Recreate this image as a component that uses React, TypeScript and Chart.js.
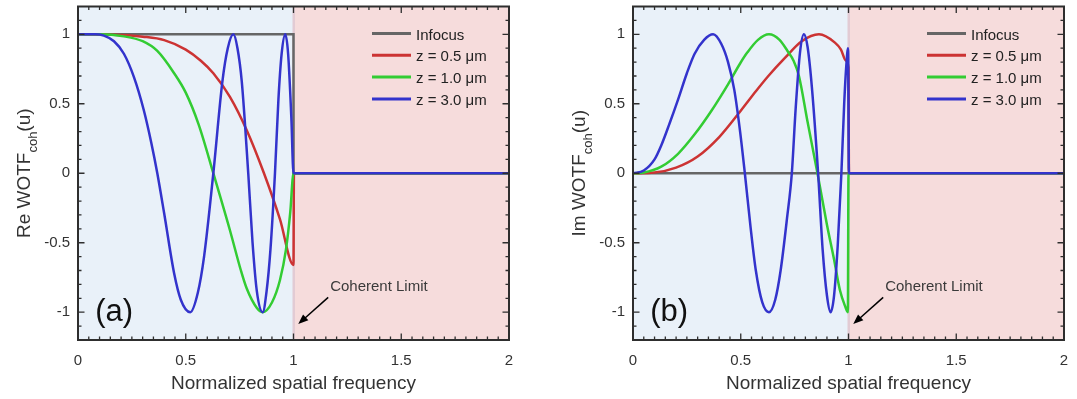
import React, { useEffect, useRef } from 'react';
import { Chart, registerables } from 'chart.js';

Chart.register(...registerables);

const FONT = '"Liberation Sans", Arial, Helvetica, sans-serif';

// ---------- legend / ticks ----------
const seriesLabels = ['Infocus', 'z = 0.5 μm', 'z = 1.0 μm', 'z = 3.0 μm'];
const seriesColors = ['#666666', '#cc3333', '#33cc33', '#3333cc'];
const xTickValues = [0, 0.5, 1, 1.5, 2];
const yTickValues = [-1, -0.5, 0, 0.5, 1];

// ---------- panel (a): Re WOTF ----------
const reInfocusX = [0, 1, 1, 2];
const reInfocusY = [1, 1, 0, 0];

const reRedX = [0, 0.1, 0.2, 0.3, 0.4, 0.5, 0.57, 0.628, 0.705, 0.783, 0.863, 0.937, 1.0, 1.002, 2];
const reRedY = [1, 0.999, 0.995, 0.983, 0.958, 0.89, 0.81, 0.72, 0.55, 0.31, 0.0, -0.33, -0.66, 0, 0];

const reGreenX = [0, 0.1, 0.213, 0.3, 0.368, 0.446, 0.5, 0.56, 0.628, 0.705, 0.756, 0.783, 0.83, 0.857, 0.9, 0.937, 0.965, 0.985, 1.0, 2];
const reGreenY = [1, 1, 0.985, 0.95, 0.88, 0.72, 0.58, 0.35, 0, -0.41, -0.7, -0.83, -0.97, -1, -0.93, -0.77, -0.55, -0.28, 0, 0];

const reBlueX = [0, 0.08, 0.12, 0.167, 0.213, 0.26, 0.306, 0.34, 0.368, 0.4, 0.446, 0.477, 0.521, 0.556, 0.585, 0.628, 0.67, 0.695, 0.721, 0.74, 0.76, 0.79, 0.81, 0.83, 0.857, 0.875, 0.893, 0.914, 0.93, 0.945, 0.962, 0.975, 0.99, 1.0, 2];
const reBlueY = [1, 1, 0.99, 0.95, 0.86, 0.69, 0.45, 0.22, 0, -0.29, -0.72, -0.91, -1, -0.86, -0.6, 0, 0.66, 0.9, 1, 0.9, 0.66, 0, -0.5, -0.85, -1, -0.85, -0.55, 0, 0.53, 0.86, 1, 0.86, 0.4, 0, 0];

// ---------- panel (b): Im WOTF ----------
const imInfocusX = [0, 2];
const imInfocusY = [0, 0];

const imRedX = [0, 0.1, 0.2, 0.3, 0.4, 0.5, 0.57, 0.628, 0.705, 0.783, 0.863, 0.937, 0.965, 0.988, 1.0, 1.002, 2];
const imRedY = [0, 0.005, 0.04, 0.12, 0.26, 0.45, 0.59, 0.7, 0.83, 0.95, 1, 0.94, 0.89, 0.81, 0.76, 0, 0];

const imGreenX = [0, 0.05, 0.131, 0.209, 0.286, 0.364, 0.441, 0.497, 0.531, 0.58, 0.631, 0.68, 0.717, 0.745, 0.77, 0.81, 0.856, 0.9, 0.933, 0.96, 0.985, 0.997, 1.0, 2];
const imGreenY = [0, 0.005, 0.047, 0.14, 0.28, 0.45, 0.64, 0.79, 0.87, 0.96, 1, 0.96, 0.88, 0.81, 0.7, 0.37, 0, -0.37, -0.62, -0.84, -0.96, -1, 0, 0];

const imBlueX = [0, 0.05, 0.1, 0.131, 0.17, 0.209, 0.25, 0.286, 0.33, 0.372, 0.41, 0.441, 0.47, 0.497, 0.519, 0.545, 0.57, 0.6, 0.631, 0.66, 0.685, 0.715, 0.737, 0.755, 0.775, 0.793, 0.81, 0.83, 0.859, 0.88, 0.9, 0.917, 0.933, 0.95, 0.967, 0.98, 0.99, 0.998, 1.002, 2];
const imBlueY = [0, 0.02, 0.1, 0.2, 0.36, 0.53, 0.72, 0.86, 0.96, 1, 0.93, 0.8, 0.6, 0.3, 0, -0.38, -0.7, -0.93, -1, -0.91, -0.7, -0.32, 0, 0.47, 0.87, 1, 0.91, 0.62, 0, -0.55, -0.88, -1, -0.88, -0.52, 0, 0.5, 0.78, 0.9, 0, 0];

const toPoints = (xs: number[], ys: number[]) => xs.map((x, i) => ({ x, y: ys[i] }));

const BLUE_BG = '#e9f1f9';
const PINK_BG = '#f6dcdc';
const AXIS_COLOR = '#2e2e2e';
const TEXT_COLOR = '#333333';

type PanelCfg = {
  tag: string;
  yMain: string;
  series: { xs: number[]; ys: number[] }[];
};

function makeDecorPlugin(cfg: PanelCfg) {
  return {
    id: 'panelDecor',
    beforeDatasetsDraw(chart: any) {
      const { ctx, chartArea: a, scales } = chart;
      const xs = scales.x;
      const x1 = xs.getPixelForValue(1);
      ctx.save();
      ctx.fillStyle = BLUE_BG;
      ctx.fillRect(a.left, a.top, x1 - a.left, a.bottom - a.top);
      ctx.fillStyle = PINK_BG;
      ctx.fillRect(x1, a.top, a.right - x1, a.bottom - a.top);
      ctx.fillStyle = '#e2cbd4';
      ctx.fillRect(x1 - 1, a.top, 2.5, a.bottom - a.top);
      ctx.restore();
    },
    afterDatasetsDraw(chart: any) {
      const { ctx, chartArea: a, scales } = chart;
      const xs = scales.x;
      const ys = scales.y;
      ctx.save();

      // legend
      ctx.font = `15px ${FONT}`;
      ctx.textBaseline = 'middle';
      ctx.textAlign = 'left';
      chart.data.datasets.forEach((ds: any, i: number) => {
        const yy = a.top + 27 + i * 21.8;
        ctx.strokeStyle = ds.borderColor;
        ctx.lineWidth = 3;
        ctx.beginPath();
        ctx.moveTo(a.right - 137, yy);
        ctx.lineTo(a.right - 98, yy);
        ctx.stroke();
        ctx.fillStyle = '#222222';
        ctx.fillText(ds.label, a.right - 93, yy + 2);
      });

      // panel tag
      ctx.font = `31px ${FONT}`;
      ctx.fillStyle = '#111111';
      ctx.textBaseline = 'alphabetic';
      ctx.fillText(cfg.tag, xs.getPixelForValue(0.08), ys.getPixelForValue(-1.06));

      // coherent limit annotation
      ctx.font = `15px ${FONT}`;
      ctx.fillStyle = '#3a3a3a';
      ctx.textBaseline = 'middle';
      ctx.fillText('Coherent Limit', xs.getPixelForValue(1.17), ys.getPixelForValue(-0.82));
      const sx = xs.getPixelForValue(1.161);
      const sy = ys.getPixelForValue(-0.893);
      const tx = xs.getPixelForValue(1.022);
      const ty = ys.getPixelForValue(-1.085);
      const ang = Math.atan2(ty - sy, tx - sx);
      const hl = 10;
      const hw = 4;
      ctx.strokeStyle = '#000';
      ctx.lineWidth = 1.5;
      ctx.beginPath();
      ctx.moveTo(sx, sy);
      ctx.lineTo(tx - Math.cos(ang) * hl * 0.8, ty - Math.sin(ang) * hl * 0.8);
      ctx.stroke();
      ctx.fillStyle = '#000';
      ctx.beginPath();
      ctx.moveTo(tx, ty);
      ctx.lineTo(tx - Math.cos(ang) * hl - Math.sin(ang) * hw, ty - Math.sin(ang) * hl + Math.cos(ang) * hw);
      ctx.lineTo(tx - Math.cos(ang) * hl + Math.sin(ang) * hw, ty - Math.sin(ang) * hl - Math.cos(ang) * hw);
      ctx.closePath();
      ctx.fill();

      // inward ticks on all four sides
      ctx.strokeStyle = AXIS_COLOR;
      ctx.lineWidth = 1.3;
      ctx.beginPath();
      for (let k = 1; k < 40; k++) {
        const v = k * 0.05;
        const major = k % 10 === 0;
        const len = major ? 6.5 : 3.5;
        const px = xs.getPixelForValue(v);
        ctx.moveTo(px, a.bottom);
        ctx.lineTo(px, a.bottom - len);
        ctx.moveTo(px, a.top);
        ctx.lineTo(px, a.top + len);
      }
      for (let k = -11; k <= 11; k++) {
        const major = k % 5 === 0;
        const len = major ? 6.5 : 3.5;
        const py = ys.getPixelForValue(k / 10);
        ctx.moveTo(a.left, py);
        ctx.lineTo(a.left + len, py);
        ctx.moveTo(a.right, py);
        ctx.lineTo(a.right - len, py);
      }
      ctx.stroke();

      // frame
      ctx.lineWidth = 2;
      ctx.strokeRect(a.left, a.top, a.right - a.left, a.bottom - a.top);

      // y title with subscript
      const cx = a.left - 48;
      const cy = (a.top + a.bottom) / 2;
      ctx.translate(cx, cy);
      ctx.rotate(-Math.PI / 2);
      ctx.fillStyle = TEXT_COLOR;
      ctx.textBaseline = 'alphabetic';
      const fMain = `19px ${FONT}`;
      const fSub = `13px ${FONT}`;
      ctx.font = fMain;
      const w1 = ctx.measureText(cfg.yMain).width;
      const w3 = ctx.measureText('(u)').width;
      ctx.font = fSub;
      const w2 = ctx.measureText('coh').width;
      let x0 = -(w1 + w2 + w3) / 2;
      ctx.font = fMain;
      ctx.fillText(cfg.yMain, x0, 0);
      x0 += w1;
      ctx.font = fSub;
      ctx.fillText('coh', x0, 7);
      x0 += w2;
      ctx.font = fMain;
      ctx.fillText('(u)', x0, 0);
      ctx.restore();
    },
  };
}

function Panel({ cfg, left, width, yAxisWidth, padRight }: { cfg: PanelCfg; left: number; width: number; yAxisWidth: number; padRight: number }) {
  const ref = useRef<HTMLCanvasElement>(null);
  useEffect(() => {
    const drawOrder = [4, 3, 2, 1];
    const chart = new Chart(ref.current as HTMLCanvasElement, {
      type: 'line',
      data: {
        datasets: cfg.series.map((s, i) => ({
          label: seriesLabels[i],
          data: toPoints(s.xs, s.ys),
          borderColor: seriesColors[i],
          backgroundColor: seriesColors[i],
          borderWidth: 2.5,
          pointRadius: 0,
          fill: false,
          order: drawOrder[i],
          cubicInterpolationMode: i === 0 ? 'default' : 'monotone',
          tension: 0,
        })),
      } as any,
      options: {
        animation: false,
        responsive: true,
        maintainAspectRatio: false,
        events: [],
        layout: { padding: { left: 0, top: 6.5, right: padRight, bottom: 4 } },
        plugins: {
          legend: { display: false },
          tooltip: { enabled: false },
        },
        scales: {
          x: {
            type: 'linear',
            min: 0,
            max: 2,
            grid: { display: false, drawTicks: false },
            border: { display: false },
            afterBuildTicks: (s: any) => {
              s.ticks = xTickValues.map((v) => ({ value: v }));
            },
            afterFit: (s: any) => {
              s.height = 55;
              s.paddingLeft = 0;
              s.paddingRight = 0;
            },
            ticks: {
              padding: 12,
              color: TEXT_COLOR,
              autoSkip: false,
              maxRotation: 0,
              font: { family: FONT, size: 15 },
              callback: (v: any) => String(v),
            },
            title: {
              display: true,
              text: 'Normalized spatial frequency',
              color: TEXT_COLOR,
              font: { family: FONT, size: 19 },
              padding: 0,
            },
          },
          y: {
            type: 'linear',
            min: -1.2,
            max: 1.2,
            grid: { display: false, drawTicks: false },
            border: { display: false },
            afterBuildTicks: (s: any) => {
              s.ticks = yTickValues.map((v) => ({ value: v }));
            },
            afterFit: (s: any) => {
              s.width = yAxisWidth;
              s.paddingTop = 0;
              s.paddingBottom = 0;
            },
            ticks: {
              padding: 8,
              color: TEXT_COLOR,
              autoSkip: false,
              font: { family: FONT, size: 15 },
              callback: (v: any) => String(v),
            },
          },
        },
      } as any,
      plugins: [makeDecorPlugin(cfg)],
    });
    return () => chart.destroy();
  }, []);
  return (
    <div style={{ position: 'absolute', left, top: 0, width, height: 399 }}>
      <canvas ref={ref} />
    </div>
  );
}

const panelA: PanelCfg = {
  tag: '(a)',
  yMain: 'Re WOTF',
  series: [
    { xs: reInfocusX, ys: reInfocusY },
    { xs: reRedX, ys: reRedY },
    { xs: reGreenX, ys: reGreenY },
    { xs: reBlueX, ys: reBlueY },
  ],
};

const panelB: PanelCfg = {
  tag: '(b)',
  yMain: 'Im WOTF',
  series: [
    { xs: imInfocusX, ys: imInfocusY },
    { xs: imRedX, ys: imRedY },
    { xs: imGreenX, ys: imGreenY },
    { xs: imBlueX, ys: imBlueY },
  ],
};

export default function App() {
  return (
    <div style={{ position: 'absolute', left: 0, top: 0, width: 1077, height: 399, background: '#ffffff', overflow: 'hidden' }}>
      <Panel cfg={panelA} left={0} width={540} yAxisWidth={78} padRight={31} />
      <Panel cfg={panelB} left={540} width={537} yAxisWidth={93} padRight={13} />
    </div>
  );
}
